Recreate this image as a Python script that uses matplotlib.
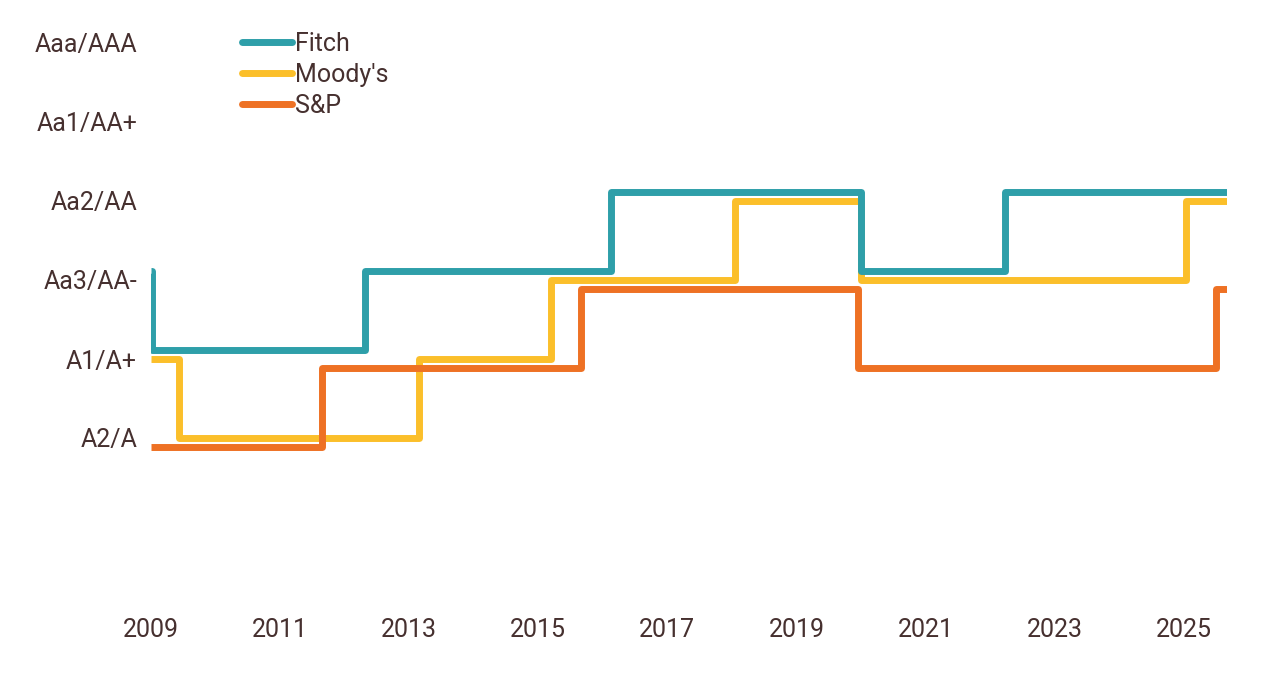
import matplotlib
matplotlib.use("Agg")
import matplotlib.pyplot as plt

# rating scale (1 = A2/A ... 6 = Aaa/AAA)
rating_labels = ["A2/A", "A1/A+", "Aa3/AA-", "Aa2/AA", "Aa1/AA+", "Aaa/AAA"]
year_ticks = [2009, 2011, 2013, 2015, 2017, 2019, 2021, 2023, 2025]

# change dates (decimal years) and rating after each change
fitch_x = [2009.0, 2009.01, 2012.31, 2016.13, 2020.0, 2022.23, 2025.67]
fitch_y = [3, 2, 3, 4, 3, 4, 4]
moodys_x = [2009.0, 2009.43, 2013.15, 2015.2, 2018.05, 2020.0, 2025.03, 2025.67]
moodys_y = [2, 1, 2, 3, 4, 3, 4, 4]
sp_x = [2009.0, 2011.65, 2015.66, 2019.95, 2025.5, 2025.67]
sp_y = [1, 2, 3, 2, 3, 3]

text_col = "#46302f"
plt.rcParams["font.family"] = ["Roboto", "DejaVu Sans"]

fig = plt.figure(figsize=(12.8, 6.82), dpi=100)
# axes placed so 2009 -> x=151px, A2/A -> y=438px
ax = fig.add_axes([151 / 1280, 1 - 600 / 682, 1076 / 1280, 570 / 682])

off = 0.11
lw = 5
l_m, = ax.plot(moodys_x, moodys_y, drawstyle="steps-post", color="#fbbf2a",
               lw=lw, zorder=2, solid_joinstyle="round", solid_capstyle="butt")
l_s, = ax.plot(sp_x, [v - off for v in sp_y], drawstyle="steps-post", color="#ee7124",
               lw=lw, zorder=3, solid_joinstyle="round", solid_capstyle="butt")
l_f, = ax.plot(fitch_x, [v + off for v in fitch_y], drawstyle="steps-post", color="#2e9fa9",
               lw=lw, zorder=4, solid_joinstyle="round", solid_capstyle="butt")

ax.set_xlim(2009, 2025.67)
ax.set_ylim(1 - 162 / 79, 6 + 13 / 79)
ax.set_xticks(year_ticks)
ax.set_xticklabels([str(y) for y in year_ticks])
ax.set_yticks(range(1, 7))
ax.set_yticklabels(rating_labels)
ax.tick_params(length=0, labelsize=18, colors=text_col)
ax.tick_params(axis="y", pad=10)
ax.tick_params(axis="x", pad=13)
for s in ax.spines.values():
    s.set_visible(False)

leg = ax.legend([l_f, l_m, l_s], ["Fitch", "Moody's", "S&P"], loc="upper left",
                bbox_to_anchor=(0.075, 1.014), frameon=False, fontsize=18,
                handlelength=2.0, handletextpad=0.12, labelspacing=0.28,
                borderaxespad=0)
for t in leg.get_texts():
    t.set_color(text_col)
for h in leg.legend_handles:
    h.set_solid_capstyle("round")

fig.savefig("out.png", dpi=100)
